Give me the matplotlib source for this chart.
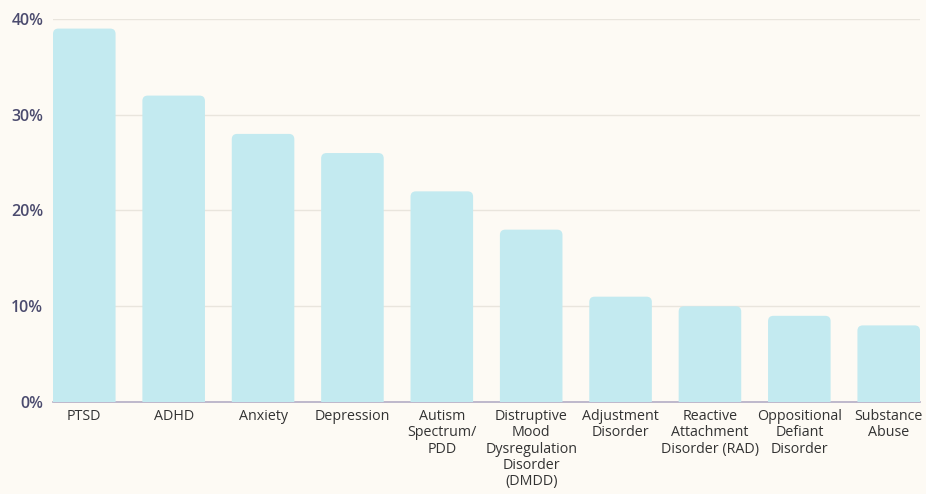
import matplotlib
matplotlib.use("Agg")
import matplotlib.pyplot as plt
from matplotlib.patches import FancyBboxPatch
import numpy as np

# data
categories = ["PTSD", "ADHD", "Anxiety", "Depression", "Autism\nSpectrum/\nPDD",
              "Distruptive\nMood\nDysregulation\nDisorder\n(DMDD)",
              "Adjustment\nDisorder", "Reactive\nAttachment\nDisorder (RAD)",
              "Oppositional\nDefiant\nDisorder", "Substance\nAbuse"]
values = [39, 32, 28, 26, 22, 18, 11, 10, 9, 8]
yticks = [0, 10, 20, 30, 40]
ytick_labels = ["0%", "10%", "20%", "30%", "40%"]

bg = "#fdfaf4"
bar_color = "#c3eaf0"

plt.rcParams['font.family'] = ['Open Sans', 'DejaVu Sans']

fig = plt.figure(figsize=(9.26, 4.94), dpi=100, facecolor=bg)
ax = fig.add_axes([53/926, 92/494, 867/926, 383/494])
ax.set_facecolor(bg)

x = np.arange(len(categories))
bars = ax.bar(x, values, width=0.7, color=bar_color, zorder=3)

# swap plain bars for rounded ones
r_x = 0.06
asp = (89.4 / 9.575)  # px per x unit / px per y unit
for b in bars:
    x0, y0 = b.get_x(), b.get_y()
    w, h = b.get_width(), b.get_height()
    b.set_visible(False)
    p = FancyBboxPatch((x0 + r_x, y0 - 2), w - 2 * r_x, h + 2 - r_x * asp,
                       boxstyle="round,pad=%f" % r_x, mutation_aspect=asp,
                       facecolor=bar_color, edgecolor="none", zorder=3)
    ax.add_patch(p)

ax.set_xlim(-0.35, len(categories) - 0.65)
ax.set_ylim(0, 40)
ax.set_yticks(yticks)
ax.set_yticklabels(ytick_labels, fontsize=11.5, color="#4b4b6e", fontweight="semibold")
ax.set_xticks(x)
ax.set_xticklabels(categories, fontsize=10.3, color="#333333", linespacing=1.12,
                   fontweight="medium")
ax.tick_params(axis="both", length=0)
ax.tick_params(axis="x", pad=5)
ax.tick_params(axis="y", pad=7)

for t in yticks[1:]:
    ax.axhline(t, color="#e9e5dd", lw=1, zorder=1)
ax.axhline(0, color="#b3adc4", lw=1.2, zorder=2, clip_on=False)

for s in ax.spines.values():
    s.set_visible(False)

fig.savefig("out.png", dpi=100, facecolor=bg)
